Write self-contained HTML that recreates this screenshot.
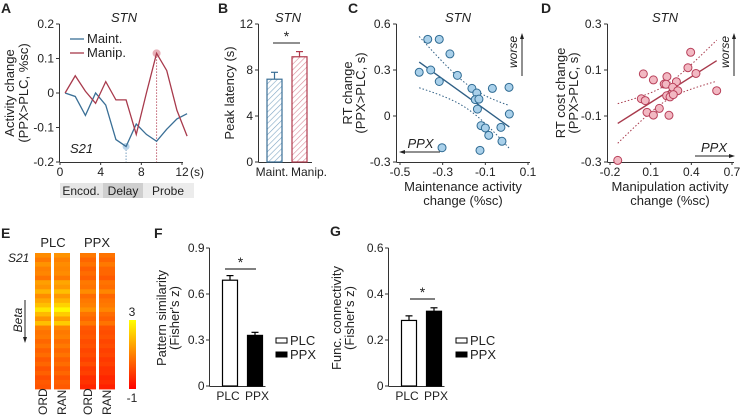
<!DOCTYPE html>
<html><head><meta charset="utf-8"><style>
html,body{margin:0;padding:0;background:#fff}
svg{display:block;font-family:"Liberation Sans",Arial,sans-serif}
text{fill:#222}
</style></head><body>
<svg id="fig" width="748" height="418" viewBox="0 0 748 418" xmlns="http://www.w3.org/2000/svg">
<defs>
<pattern id="hatchB" width="4" height="4" patternUnits="userSpaceOnUse" patternTransform="rotate(45)"><rect width="4" height="4" fill="#fff"/><line x1="0" y1="0" x2="0" y2="4" stroke="#7fa6c4" stroke-width="1.2"/></pattern>
<pattern id="hatchR" width="4" height="4" patternUnits="userSpaceOnUse" patternTransform="rotate(45)"><rect width="4" height="4" fill="#fff"/><line x1="0" y1="0" x2="0" y2="4" stroke="#d98a98" stroke-width="1.2"/></pattern>
<linearGradient id="cbar" x1="0" y1="1" x2="0" y2="0"><stop offset="0" stop-color="#ff0000"/><stop offset="0.5" stop-color="#ff8000"/><stop offset="1" stop-color="#ffff00"/></linearGradient>
</defs>
<g id="root"></g>
</svg>
<script>
// ---- Panel A data ----
const aTimes=[0.5,1.5,2.5,3.5,4.5,5.5,6.5,7.5,8.5,9.5,10.5,11.5,12.5];
const aMaint=[0,-0.01,-0.065,0,-0.035,-0.135,-0.155,-0.09,-0.12,-0.14,-0.105,-0.075,-0.06];
const aManip=[0,0.05,0.005,-0.03,0.033,-0.02,-0.02,-0.12,0,0.115,0.065,-0.05,-0.125];
const aXTicks=[0,4,8,12];
const aYTicks=[0.2,0.1,0,-0.1,-0.2];
// ---- Panel B data ----
const bCats=["Maint.","Manip."];
const bMeans=[7.2,9.15];
const bErrs=[0.6,0.45];
const bYTicks=[0,4,8,12];
// ---- Panel C data ----
const cX=[-0.37,-0.316,-0.266,-0.41,-0.356,-0.316,-0.231,-0.163,-0.14,-0.147,-0.13,-0.137,-0.067,0.011,0.0125,-0.12,-0.1,-0.084,-0.027,-0.022,-0.125,-0.303];
const cY=[0.5,0.5,0.405,0.285,0.3,0.225,0.265,0.18,0.15,0.107,0.11,0.045,0.18,0.187,0.013,-0.063,-0.078,-0.126,-0.074,-0.165,-0.224,-0.207];
const cXTicks=[-0.5,-0.3,-0.1,0.1];
const cYTicks=[0.6,0.3,0,-0.3];
// ---- Panel D data ----
const dX=[-0.143,0.046,0.12,0.22,0.2,0.213,0.29,0.262,0.3,0.395,0.375,0.434,0.587,0.031,0.06,0.218,0.243,0.267,0.164,0.073,0.12,0.235];
const dY=[-0.293,0.083,0.057,0.071,0.039,0.038,0.049,0.025,0.01,0.177,0.11,0.085,0.01,-0.025,-0.033,-0.012,-0.017,-0.007,-0.067,-0.084,-0.096,-0.097];
const dXTicks=[-0.2,0.1,0.4,0.7];
const dYTicks=[0.3,0.1,-0.1,-0.3];
// ---- Panel E data ----
const eCols=["ORD","RAN","ORD","RAN"];
const ePlcOrd=[1.2,0.9,1.3,1.0,1.1,0.8,1.5,1.3,1.8,1.2,1.6,2.0,2.6,1.9,1.3,2.0,1.0,0.8,0.9,0.6,0.8,0.5,0.7,0.4,0.6,0.3,0.5,0.2,0.4,0.3];
const ePlcRan=[1.3,1.0,1.2,1.1,1.2,0.9,1.6,1.4,2.0,1.4,1.8,2.3,2.9,2.2,1.5,2.2,1.1,0.9,1.0,0.7,0.9,0.6,0.8,0.5,0.7,0.4,0.6,0.3,0.5,0.4];
const ePpxOrd=[0.9,0.6,0.8,0.5,0.7,0.5,0.9,0.8,1.2,0.7,0.9,1.0,1.3,0.8,0.6,0.9,0.4,0.3,0.4,0.2,0.3,0.1,0.2,0.0,0.2,-0.1,0.0,-0.3,-0.2,-0.4];
const ePpxRan=[0.8,0.6,0.9,0.6,0.6,0.4,0.8,0.7,1.1,0.6,0.8,0.9,1.1,0.7,0.5,0.8,0.3,0.2,0.3,0.1,0.2,0.0,0.1,-0.1,0.0,-0.2,-0.2,-0.4,-0.3,-0.5];
// ---- Panel F/G data ----
const fgCats=["PLC","PPX"];
const fMeans=[0.69,0.33];
const fErrs=[0.03,0.02];
const fYTicks=[0,0.3,0.6,0.9];
const gMeans=[0.285,0.325];
const gErrs=[0.02,0.015];
const gYTicks=[0,0.2,0.4,0.6];

const NS="http://www.w3.org/2000/svg";
const root=document.getElementById('root');
function el(tag,attrs,parent,txt){const e=document.createElementNS(NS,tag);for(const k in attrs)e.setAttribute(k,attrs[k]);if(txt!==undefined)e.textContent=txt;(parent||root).appendChild(e);return e;}
function lin(d0,d1,p0,p1){return v=>p0+(v-d0)*(p1-p0)/(d1-d0);}
function fmt(v){return (Math.round(v*10)/10).toString();}
function txt(x,y,s,opts,parent){return el('text',Object.assign({x:x,y:y,'font-size':12},opts||{}),parent,s);}
const AX='#333', TF=12, LF=13;

// ================= Panel A =================
(function(){
const g=el('g',{});


const X=lin(0,12,60,182), Y=lin(-0.2,0.2,162,24);
txt(1,13,'A',{'font-size':14,'font-weight':'bold'},g);
txt(124,22,'STN',{'font-size':LF,'font-style':'italic','text-anchor':'middle'},g);
el('line',{x1:59.5,y1:24,x2:59.5,y2:162,stroke:AX},g);
el('line',{x1:59.5,y1:162.5,x2:183,y2:162.5,stroke:AX},g);
aYTicks.forEach(v=>{el('line',{x1:56,x2:59.5,y1:Y(v),y2:Y(v),stroke:AX},g);txt(54,Y(v)+4,fmt(v),{'text-anchor':'end'},g);});
aXTicks.forEach(v=>{el('line',{x1:X(v),x2:X(v),y1:162,y2:165,stroke:AX},g);txt(X(v),176,String(v),{'text-anchor':'middle'},g);});
txt(190,176,'(s)',{},g);
const yl=txt(0,0,'Activity change',{'font-size':LF,'text-anchor':'middle',transform:`translate(14,93) rotate(-90)`},g);

txt(0,0,'(PPX>PLC, %sc)',{'font-size':LF,'text-anchor':'middle',transform:`translate(28,93) rotate(-90)`},g);
el('rect',{x:60,y:183,width:43,height:15,fill:'#e6e6e6'},g);
el('rect',{x:103,y:183,width:40,height:15,fill:'#cfcfcf'},g);
el('rect',{x:143,y:183,width:51,height:15,fill:'#ececec'},g);
txt(81,195,'Encod.',{'text-anchor':'middle'},g);txt(123,195,'Delay',{'text-anchor':'middle'},g);txt(168,195,'Probe',{'text-anchor':'middle'},g);
const iB=aMaint.indexOf(Math.min(...aMaint)), iR=aManip.indexOf(Math.max(...aManip));
el('line',{x1:X(aTimes[iB]),x2:X(aTimes[iB]),y1:Y(aMaint[iB]),y2:162,stroke:'#7aa0c0','stroke-dasharray':'1.5,1.5'},g);
el('line',{x1:X(aTimes[iR]),x2:X(aTimes[iR]),y1:Y(aManip[iR]),y2:162,stroke:'#c06070','stroke-dasharray':'1.5,1.5'},g);
el('circle',{cx:X(aTimes[iB]),cy:Y(aMaint[iB]),r:3.5,fill:'#b9d4ea'},g);
el('circle',{cx:X(aTimes[iR]),cy:Y(aManip[iR]),r:4,fill:'#e8b0b8'},g);
const pm=el('polyline',{points:aTimes.map((t,i)=>X(t)+','+Y(aMaint[i])).join(' '),fill:'none',stroke:'#3a6f96','stroke-width':1.3},g);

const pr=el('polyline',{points:aTimes.map((t,i)=>X(t)+','+Y(aManip[i])).join(' '),fill:'none',stroke:'#a83a4c','stroke-width':1.3},g);

txt(70,153,'S21',{'font-size':LF,'font-style':'italic'},g);
el('line',{x1:70,x2:84,y1:39,y2:39,stroke:'#3a6f96','stroke-width':1.3},g);
txt(87,43,'Maint.',{'font-size':LF},g);
el('line',{x1:70,x2:84,y1:53,y2:53,stroke:'#a83a4c','stroke-width':1.3},g);
txt(87,57,'Manip.',{'font-size':LF},g);
})();

// ================= Panel B =================
(function(){
const g=el('g',{});


const Y=lin(0,12,162,24);
txt(218,13,'B',{'font-size':14,'font-weight':'bold'},g);
txt(288,22,'STN',{'font-size':LF,'font-style':'italic','text-anchor':'middle'},g);
el('line',{x1:258.5,y1:24,x2:258.5,y2:162,stroke:AX},g);
el('line',{x1:258.5,y1:162.5,x2:312,y2:162.5,stroke:AX},g);
bYTicks.forEach(v=>{el('line',{x1:255,x2:258.5,y1:Y(v),y2:Y(v),stroke:AX},g);txt(253,Y(v)+4,String(v),{'text-anchor':'end'},g);});
txt(0,0,'Peak latency (s)',{'font-size':LF,'text-anchor':'middle',transform:'translate(234,93) rotate(-90)'},g);
const xs=[267,292], cols=['#3a6f96','#b03a4c'], fills=['url(#hatchB)','url(#hatchR)'], lx=[272,309];
bCats.forEach((c,i)=>{
 const b=el('rect',{x:xs[i],y:Y(bMeans[i]),width:15,height:162-Y(bMeans[i]),fill:fills[i],stroke:cols[i],'stroke-width':1.2},g);
 
 el('line',{x1:xs[i]+7.5,x2:xs[i]+7.5,y1:Y(bMeans[i]),y2:Y(bMeans[i]+bErrs[i]),stroke:cols[i],'stroke-width':1.2},g);
 el('line',{x1:xs[i]+4,x2:xs[i]+11,y1:Y(bMeans[i]+bErrs[i]),y2:Y(bMeans[i]+bErrs[i]),stroke:cols[i],'stroke-width':1.2},g);
 txt(lx[i],176,c,{'text-anchor':'middle'},g);
});
el('line',{x1:273,x2:300,y1:43,y2:43,stroke:'#222'},g);
txt(286.5,41,'*',{'font-size':14,'text-anchor':'middle'},g);
})();

// ================= Scatter helper =================
function scatter(opt){
const g=el('g',{});


const X=lin(opt.xd[0],opt.xd[1],opt.xp[0],opt.xp[1]), Y=lin(opt.yd[0],opt.yd[1],162,24);
txt(opt.letterX,13,opt.letter,{'font-size':14,'font-weight':'bold'},g);
txt(opt.titleX,22,'STN',{'font-size':LF,'font-style':'italic','text-anchor':'middle'},g);
el('line',{x1:opt.ax,y1:24,x2:opt.ax,y2:162,stroke:AX},g);
el('line',{x1:opt.ax,y1:162.5,x2:opt.xp[1]+2,y2:162.5,stroke:AX},g);
opt.yt.forEach(v=>{el('line',{x1:opt.ax-3.5,x2:opt.ax,y1:Y(v),y2:Y(v),stroke:AX},g);txt(opt.ax-6,Y(v)+4,fmt(v),{'text-anchor':'end'},g);});
opt.xt.forEach(v=>{el('line',{x1:X(v),x2:X(v),y1:162,y2:165,stroke:AX},g);txt(X(v),176,fmt(v),{'text-anchor':'middle'},g);});
const xs=opt.x, ys=opt.y, n=xs.length;
const mx=xs.reduce((a,b)=>a+b)/n, my=ys.reduce((a,b)=>a+b)/n;
let sxx=0,sxy=0;xs.forEach((v,i)=>{sxx+=(v-mx)**2;sxy+=(v-mx)*(ys[i]-my);});
const b=sxy/sxx,a=my-b*mx;let sse=0;xs.forEach((v,i)=>{sse+=(ys[i]-a-b*v)**2;});
const s=Math.sqrt(sse/(n-2)), x0=Math.min(...xs), x1=Math.max(...xs);
const up=[],lo=[];for(let k=0;k<=20;k++){const xv=x0+(x1-x0)*k/20;const se=2.08*s*Math.sqrt(1/n+(xv-mx)**2/sxx);up.push(X(xv)+','+Y(a+b*xv+se));lo.push(X(xv)+','+Y(a+b*xv-se));}
el('polyline',{points:up.join(' '),fill:'none',stroke:opt.line,'stroke-dasharray':'1.5,2','stroke-width':1},g);
el('polyline',{points:lo.join(' '),fill:'none',stroke:opt.line,'stroke-dasharray':'1.5,2','stroke-width':1},g);
const rl=el('line',{x1:X(x0),y1:Y(a+b*x0),x2:X(x1),y2:Y(a+b*x1),stroke:opt.line,'stroke-width':1.4},g);

xs.forEach((v,i)=>{const c=el('circle',{cx:X(v),cy:Y(ys[i]),r:4,fill:opt.fill,stroke:opt.stroke,'stroke-width':1},g);
 
 });
opt.ylab.forEach((l,i)=>txt(0,0,l,{'font-size':LF,'text-anchor':'middle',transform:`translate(${opt.ylx+i*13},93) rotate(-90)`},g));
opt.xlab.forEach((l,i)=>txt(opt.xlx,191+i*14,l,{'font-size':LF,'text-anchor':'middle'},g));
const wx=opt.worseX;
txt(0,0,'worse',{'font-size':12,'font-style':'italic','text-anchor':'middle',transform:`translate(${wx},52) rotate(-90)`},g);
el('line',{x1:wx+5,x2:wx+5,y1:76,y2:36,stroke:'#222'},g);
el('polygon',{points:`${wx+5},33 ${wx+3},39 ${wx+7},39`,fill:'#222'},g);
const p=opt.ppx;
txt((p[0]+p[1])/2,p[2]-4,'PPX',{'font-size':LF,'font-style':'italic','text-anchor':'middle'},g);
el('line',{x1:p[0],x2:p[1],y1:p[2],y2:p[2],stroke:'#222'},g);
if(p[3]<0)el('polygon',{points:`${p[0]-2},${p[2]} ${p[0]+4},${p[2]-2} ${p[0]+4},${p[2]+2}`,fill:'#222'},g);
else el('polygon',{points:`${p[1]+2},${p[2]} ${p[1]-4},${p[2]-2} ${p[1]-4},${p[2]+2}`,fill:'#222'},g);
}
scatter({name:'panel-c',letter:'C',letterX:348,titleX:458,ax:396.5,xd:[-0.5,0.1],xp:[400,528],yd:[-0.3,0.6],yt:cYTicks,xt:cXTicks,x:cX,y:cY,
 line:'#2f5f85',fill:'#a9d0ea',stroke:'#2f6b93',ylab:['RT change','(PPX>PLC, s)'],ylx:352,xlab:['Maintenance activity','change (%sc)'],xlx:463,worseX:517,ppx:[401,440,152,-1]});
scatter({name:'panel-d',letter:'D',letterX:541,titleX:665,ax:607.5,xd:[-0.2,0.7],xp:[610,732],yd:[-0.3,0.3],yt:dYTicks,xt:dXTicks,x:dX,y:dY,
 line:'#a83a4c',fill:'#f2b8c2',stroke:'#b8405a',ylab:['RT cost change','(PPX>PLC, s)'],ylx:565,xlab:['Manipulation activity','change (%sc)'],xlx:670,worseX:729,ppx:[695,733,156,1]});

// ================= Panel E =================
(function(){
const g=el('g',{});


txt(1,238,'E',{'font-size':14,'font-weight':'bold'},g);
txt(53,247,'PLC',{'font-size':LF,'text-anchor':'middle'},g);
txt(97,247,'PPX',{'font-size':LF,'text-anchor':'middle'},g);
txt(8,262,'S21',{'font-size':12,'font-style':'italic'},g);
txt(0,0,'Beta',{'font-size':12,'font-style':'italic','text-anchor':'middle',transform:'translate(22,320) rotate(-90)'},g);
el('line',{x1:25,x2:25,y1:300,y2:340,stroke:'#222'},g);
el('polygon',{points:'25,343 23,337 27,337',fill:'#222'},g);
const cols=[ePlcOrd,ePlcRan,ePpxOrd,ePpxRan], xs=[35,54,80,99];
const top=253,bot=389,h=(bot-top)/ePlcOrd.length;
const C=v=>{const t=Math.max(0,Math.min(1,(v+1)/4));return `rgb(255,${Math.round(t*255)},0)`;};
cols.forEach((col,j)=>{col.forEach((v,i)=>{const r=el('rect',{x:xs[j],y:top+i*h,width:16,height:h+0.4,fill:C(v)},g);
 
 });
 txt(0,0,eCols[j],{'font-size':12,'text-anchor':'start',transform:`translate(${xs[j]+12},415) rotate(-90)`},g);});
el('rect',{x:129,y:320,width:7,height:69,fill:'url(#cbar)'},g);
txt(132,316,'3',{'font-size':12,'text-anchor':'middle'},g);
txt(132,402,'-1',{'font-size':12,'text-anchor':'middle'},g);
})();

// ================= F / G =================
function barPanel(opt){
const g=el('g',{});


const Y=lin(0,opt.yt[opt.yt.length-1],386,248);
txt(opt.lx,opt.ly,opt.letter,{'font-size':14,'font-weight':'bold'},g);
el('line',{x1:opt.ax,y1:248,x2:opt.ax,y2:386,stroke:AX},g);
el('line',{x1:opt.ax,y1:386.5,x2:opt.ax+56,y2:386.5,stroke:AX},g);
opt.yt.forEach(v=>{el('line',{x1:opt.ax-3.5,x2:opt.ax,y1:Y(v),y2:Y(v),stroke:AX},g);txt(opt.ax-5,Y(v)+4,fmt(v),{'text-anchor':'end'},g);});
opt.ylab.forEach((l,i)=>txt(0,0,l,{'font-size':LF,'text-anchor':'middle',transform:`translate(${opt.ylx+i*13},318) rotate(-90)`},g));
const xs=[opt.ax+13,opt.ax+38];
fgCats.forEach((c,i)=>{
 const b=el('rect',{x:xs[i],y:Y(opt.m[i]),width:15,height:386-Y(opt.m[i]),fill:i?'#000':'#fff',stroke:'#000','stroke-width':1.2},g);
 
 el('line',{x1:xs[i]+7.5,x2:xs[i]+7.5,y1:Y(opt.m[i]),y2:Y(opt.m[i]+opt.e[i]),stroke:'#000','stroke-width':1.2},g);
 el('line',{x1:xs[i]+4,x2:xs[i]+11,y1:Y(opt.m[i]+opt.e[i]),y2:Y(opt.m[i]+opt.e[i]),stroke:'#000','stroke-width':1.2},g);
 txt(xs[i]+7.5+(i?2:-2),400,c,{'text-anchor':'middle'},g);
});
el('line',{x1:opt.sig[0],x2:opt.sig[1],y1:opt.sig[2],y2:opt.sig[2],stroke:'#000'},g);
txt((opt.sig[0]+opt.sig[1])/2,opt.sig[2]-2,'*',{'font-size':14,'text-anchor':'middle'},g);
const lg=el('g',{},g);


el('rect',{x:opt.leg,y:338,width:11,height:5,fill:'#fff',stroke:'#000'},lg);
txt(opt.leg+14,345,'PLC',{'font-size':LF},lg);
el('rect',{x:opt.leg,y:352,width:11,height:5,fill:'#000',stroke:'#000'},lg);
txt(opt.leg+14,359,'PPX',{'font-size':LF},lg);
}
barPanel({name:'panel-f',letter:'F',lx:154,ly:238,ax:209.5,yt:fYTicks,m:fMeans,e:fErrs,ylab:['Pattern similarity',"(Fisher's z)"],ylx:166,sig:[225,256,269],leg:276});
barPanel({name:'panel-g',letter:'G',lx:330,ly:236,ax:388.5,yt:gYTicks,m:gMeans,e:gErrs,ylab:['Func. connectivity',"(Fisher's z)"],ylx:341,sig:[410,435,299],leg:456});
</script>
</body></html>
